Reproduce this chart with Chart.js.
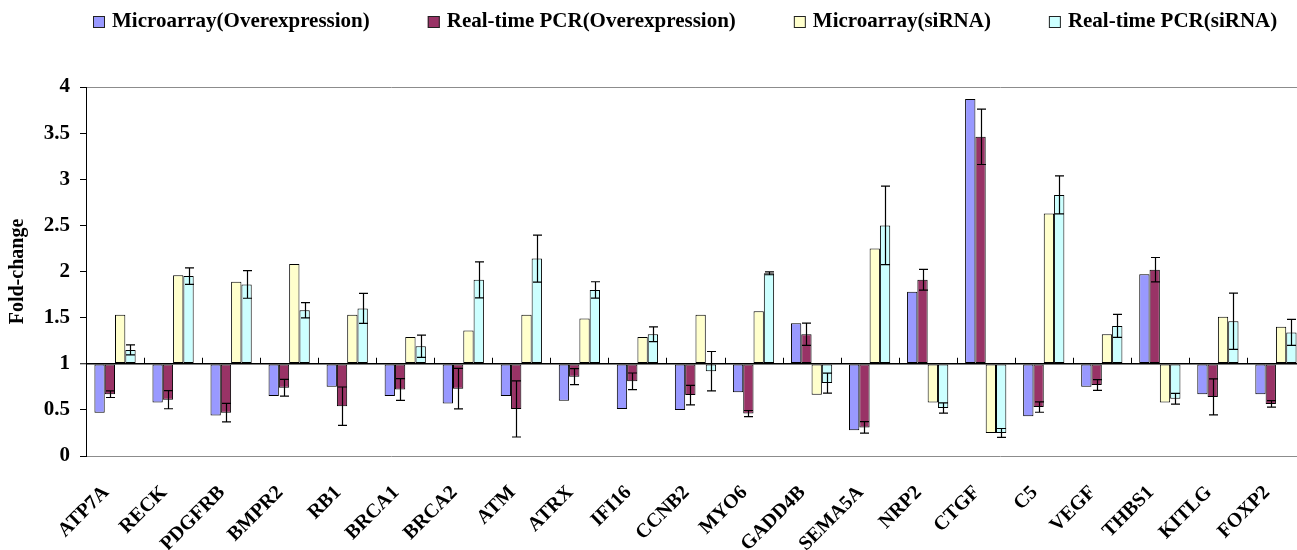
<!DOCTYPE html>
<html><head><meta charset="utf-8">
<script src="https://cdn.jsdelivr.net/npm/chart.js@4/dist/chart.umd.min.js"></script>
<style>
html,body{margin:0;padding:0;overflow:hidden;background:#fff;width:1297px;height:550px}
canvas{display:block}
</style></head>
<body>
<canvas id="c" width="1310" height="550"></canvas>
<script>
const categories = ['ATP7A','RECK','PDGFRB','BMPR2','RB1','BRCA1','BRCA2','ATM','ATRX','IFI16','CCNB2','MYO6','GADD4B','SEMA5A','NRP2','CTGF','C5','VEGF','THBS1','KITLG','FOXP2'];
const seriesNames = ['Microarray(Overexpression)','Real-time PCR(Overexpression)','Microarray(siRNA)','Real-time PCR(siRNA)'];
const microarrayOE = [0.47,0.58,0.44,0.65,0.75,0.65,0.57,0.65,0.60,0.51,0.50,0.69,1.44,0.28,1.78,3.87,0.43,0.75,1.97,0.67,0.67];
const pcrOE        = [0.67,0.61,0.47,0.74,0.54,0.72,0.73,0.51,0.86,0.81,0.66,0.46,1.32,0.31,1.91,3.46,0.53,0.77,2.02,0.64,0.565];
const pcrOEErr     = [0.036,0.098,0.10,0.09,0.208,0.118,0.22,0.304,0.087,0.09,0.105,0.033,0.12,0.063,0.112,0.30,0.056,0.058,0.132,0.195,0.036];
const microarraySi = [1.53,1.96,1.89,2.08,1.53,1.29,1.36,1.53,1.49,1.29,1.53,1.57,0.665,2.25,0.58,0.25,2.63,1.32,0.58,1.51,1.40];
const pcrSi        = [1.15,1.95,1.86,1.58,1.60,1.19,1.91,2.14,1.80,1.32,0.92,1.98,0.79,2.50,0.52,0.25,2.83,1.41,0.62,1.46,1.34];
const pcrSiErr     = [0.054,0.09,0.15,0.083,0.163,0.12,0.195,0.255,0.089,0.08,0.213,0.015,0.108,0.425,0.055,0.048,0.206,0.125,0.058,0.305,0.14];
const yTickLabels = ['0','0.5','1','1.5','2','2.5','3','3.5','4'];
const yMin = 0, yMax = 4, yStep = 0.5, baseValue = 1;
const yTitle = 'Fold-change';

const SERIF = '"Liberation Serif", "Times New Roman", serif';
const colors = ['#9999ff','#993366','#ffffcc','#ccffff'];

const errorBars = {
  id: 'errorBars',
  afterDatasetsDraw(chart) {
    const ctx = chart.ctx, ys = chart.scales.y;
    chart.data.datasets.forEach((ds, di) => {
      if (!ds.errors) return;
      const meta = chart.getDatasetMeta(di);
      meta.data.forEach((bar, i) => {
        const v = ds.data[i], e = ds.errors[i];
        const x = Math.round(bar.x) + 0.5;
        const y1 = ys.getPixelForValue(v + e), y2 = ys.getPixelForValue(v - e);
        ctx.save();
        ctx.strokeStyle = '#000';
        ctx.lineWidth = 1.2;
        ctx.beginPath();
        ctx.moveTo(x, y1); ctx.lineTo(x, y2);
        ctx.moveTo(x - 4.5, y1); ctx.lineTo(x + 4.5, y1);
        ctx.moveTo(x - 4.5, y2); ctx.lineTo(x + 4.5, y2);
        ctx.stroke();
        ctx.restore();
      });
    });
  }
};

const categoryTicks = {
  id: 'categoryTicks',
  afterDatasetsDraw(chart) {
    const ctx = chart.ctx, xs = chart.scales.x, ys = chart.scales.y;
    const y1 = ys.getPixelForValue(baseValue);
    const n = categories.length;
    ctx.save();
    ctx.strokeStyle = '#000';
    ctx.lineWidth = 1;
    ctx.beginPath();
    for (let i = 1; i < n; i++) {
      const bx = Math.round((xs.getPixelForTick(i - 1) + xs.getPixelForTick(i)) / 2) + 0.5;
      ctx.moveTo(bx, y1); ctx.lineTo(bx, y1 - 6);
    }
    ctx.stroke();
    ctx.restore();
  }
};

const customLegend = {
  id: 'customLegend',
  afterDraw(chart) {
    const ctx = chart.ctx;
    ctx.save();
    ctx.font = 'bold 21px ' + SERIF;
    ctx.textBaseline = 'middle';
    let x = 93;
    const yc = 22, box = 12;
    chart.data.datasets.forEach(ds => {
      ctx.fillStyle = ds.backgroundColor;
      ctx.fillRect(x, yc - box / 2, box, box);
      ctx.strokeStyle = '#222';
      ctx.lineWidth = 1;
      ctx.strokeRect(x + 0.5, yc - box / 2 + 0.5, box - 1, box - 1);
      ctx.fillStyle = '#000';
      ctx.fillText(ds.label, x + box + 7, yc);
      x += box + 7 + ctx.measureText(ds.label).width + 58;
    });
    ctx.restore();
  }
};

const common = {
  base: baseValue,
  borderColor: '#000',
  borderWidth: 1,
  borderSkipped: false,
  categoryPercentage: 0.71,
  barPercentage: 1.0
};

new Chart(document.getElementById('c'), {
  type: 'bar',
  data: {
    labels: categories,
    datasets: [
      Object.assign({label: seriesNames[0], data: microarrayOE, backgroundColor: colors[0]}, common),
      Object.assign({label: seriesNames[1], data: pcrOE, errors: pcrOEErr, backgroundColor: colors[1]}, common),
      Object.assign({label: seriesNames[2], data: microarraySi, backgroundColor: colors[2]}, common),
      Object.assign({label: seriesNames[3], data: pcrSi, errors: pcrSiErr, backgroundColor: colors[3]}, common)
    ]
  },
  options: {
    responsive: false,
    devicePixelRatio: 1,
    animation: false,
    layout: {padding: {left: 0, right: 4, top: 87, bottom: 0}},
    plugins: {legend: {display: false}, tooltip: {enabled: false}},
    scales: {
      x: {
        grid: {display: false},
        border: {display: false},
        ticks: {
          autoSkip: false, minRotation: 45, maxRotation: 45,
          padding: 17, labelOffset: -9,
          color: '#000',
          font: {family: SERIF, size: 20, weight: 'bold'}
        },
        afterFit(s) { s.height = 94; }
      },
      y: {
        min: yMin, max: yMax,
        ticks: {
          stepSize: yStep, color: '#000', padding: 10,
          font: {family: SERIF, size: 21, weight: 'bold'},
          callback: (v, i) => yTickLabels[i]
        },
        grid: {
          color: c => c.tick.value === baseValue ? '#000' : (c.tick.value === yMin || c.tick.value === yMax) ? '#8c8c8c' : 'rgba(0,0,0,0)',
          lineWidth: c => c.tick.value === baseValue ? 1.5 : 1,
          tickColor: '#000', tickLength: 6, tickWidth: 1
        },
        border: {color: '#000', width: 1},
        title: {
          display: true, text: yTitle, color: '#000',
          font: {family: SERIF, size: 20, weight: 'bold'},
          padding: {top: 6, bottom: 0}
        },
        afterFit(s) { s.width = 86; }
      }
    }
  },
  plugins: [errorBars, categoryTicks, customLegend]
});
</script>
</body></html>
